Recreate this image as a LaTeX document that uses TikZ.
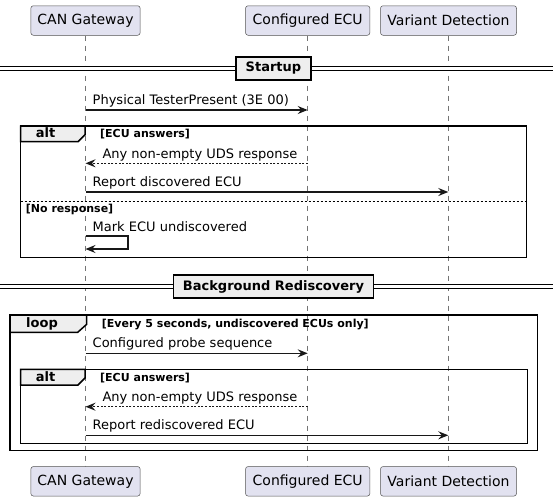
\documentclass[tikz,border=0pt]{standalone}
\usepackage{fontspec}
\setmainfont{DejaVu Sans}
\usetikzlibrary{arrows.meta}
\definecolor{partfill}{HTML}{E2E2F0}
\definecolor{ink}{HTML}{181818}
\definecolor{tabfill}{HTML}{EEEEEE}
\begin{document}
\begin{tikzpicture}
    [   x=1pt, y=-1pt,
        part/.style={draw=ink!75, fill=partfill, rounded corners=2.5pt, line width=0.5pt,
            minimum width=#1pt, minimum height=29.5pt, inner sep=0pt, font=\fontsize{14}{16}\selectfont},
        life/.style={draw=ink!60, line width=0.5pt, dash pattern=on 5pt off 5pt},
        msg/.style={draw=ink, line width=1.3pt, -{Stealth[length=10pt,width=8pt,inset=3.5pt]}},
        reply/.style={msg, dash pattern=on 2pt off 1.6pt},
        txt/.style={anchor=base west, inner sep=0pt, font=\fontsize{13}{15}\selectfont},
        cond/.style={anchor=base west, inner sep=0pt, font=\fontsize{11}{13}\selectfont\bfseries},
        tabtxt/.style={anchor=base west, inner sep=0pt, font=\fontsize{13}{15}\selectfont\bfseries},
        frame/.style={draw=black, line width=1.5pt},
        tab/.style={draw=black, fill=tabfill, line width=1.5pt},
        sep/.style={draw=black, line width=1pt, double, double distance=2.3pt},
        divider/.style={draw=black, fill=tabfill, line width=1.5pt, minimum height=23.3pt,
            inner xsep=9.5pt, inner ysep=0pt, font=\fontsize{13}{15}\selectfont\bfseries},
    ]
        \useasboundingbox (0,0) rectangle (553,501);
        % participants and lifelines
        \foreach \n/\x/\w/\t in {gw/85.5/109.3/CAN Gateway, ecu/307.7/124.3/Configured ECU, vd/448.5/136/Variant Detection}
        {   \node[part=\w] (\n-top) at (\x,20.5) {\t};
            \node[part=\w] (\n-bot) at (\x,481.3) {\t};
            \draw[life] (\n-top) -- (\n-bot);
        }
        % Startup
        \coordinate (su-l) at (0,68.6);
        \coordinate (su-r) at (553,68.6);
        \draw[sep] (su-l) -- (su-r);
        \node[divider] (su) at (273.5,68.4) {Startup};
        \coordinate (m1-a) at (85.5,110);
        \coordinate (m1-b) at (307.7,110);
        \draw[msg] (m1-a) -- (m1-b);
        \node[txt] (m1) at (92.5,104.3) {Physical TesterPresent (3E 00)};
        % alt, first block
        \draw[frame] (20.7,126) rectangle (526.7,257.3);
        \draw[tab] (20.7,126) -- (85,126) -- (85,134.7) -- (78,141.7) -- (20.7,141.7) -- cycle;
        \node[tabtxt] (alt1) at (35.7,137.7) {alt};
        \node[cond] (alt1-c) at (100,137.7) {[ECU answers]};
        \coordinate (m2-a) at (307.7,163.3);
        \coordinate (m2-b) at (85.5,163.3);
        \draw[reply] (m2-a) -- (m2-b);
        \node[txt] (m2) at (102.3,158) {Any non-empty UDS response};
        \coordinate (m3-a) at (85.5,192);
        \coordinate (m3-b) at (448.3,192);
        \draw[msg] (m3-a) -- (m3-b);
        \node[txt] (m3) at (92.5,186.5) {Report discovered ECU};
        \draw[draw=black, line width=0.8pt, dash pattern=on 2pt off 2pt] (20.7,201.7) -- (526.7,201.7);
        \node[cond] (alt1-e) at (25.7,212) {[No response]};
        \coordinate (m4-a) at (85.5,236);
        \coordinate (m4-b) at (85.5,249);
        \draw[msg] (m4-a) -- (128,236) -- (128,249) -- (m4-b);
        \node[txt] (m4) at (92.5,231.5) {Mark ECU undiscovered};
        % Background Rediscovery
        \coordinate (br-l) at (0,286.6);
        \coordinate (br-r) at (553,286.6);
        \draw[sep] (br-l) -- (br-r);
        \node[divider] (br) at (273.5,286.5) {Background Rediscovery};
        % loop
        \draw[frame] (10,315) rectangle (537.7,450.7);
        \draw[tab] (10,315) -- (86.7,315) -- (86.7,324.3) -- (77.7,332.3) -- (10,332.3) -- cycle;
        \node[tabtxt] (lp) at (26,327.5) {loop};
        \node[cond] (lp-c) at (101.7,327.5) {[Every 5 seconds, undiscovered ECUs only]};
        \coordinate (m5-a) at (85.5,353.3);
        \coordinate (m5-b) at (307.7,353.3);
        \draw[msg] (m5-a) -- (m5-b);
        \node[txt] (m5) at (92.5,347.8) {Configured probe sequence};
        % alt, second block
        \draw[frame] (20.7,369.3) rectangle (527.3,443.3);
        \draw[tab] (20.7,369.3) -- (85,369.3) -- (85,378) -- (78,385) -- (20.7,385) -- cycle;
        \node[tabtxt] (alt2) at (35.7,381) {alt};
        \node[cond] (alt2-c) at (100,381) {[ECU answers]};
        \coordinate (m6-a) at (307.7,406.7);
        \coordinate (m6-b) at (85.5,406.7);
        \draw[reply] (m6-a) -- (m6-b);
        \node[txt] (m6) at (102.3,401.4) {Any non-empty UDS response};
        \coordinate (m7-a) at (85.5,435.3);
        \coordinate (m7-b) at (448.3,435.3);
        \draw[msg] (m7-a) -- (m7-b);
        \node[txt] (m7) at (92.5,429.8) {Report rediscovered ECU};
    \end{tikzpicture}
\end{document}
